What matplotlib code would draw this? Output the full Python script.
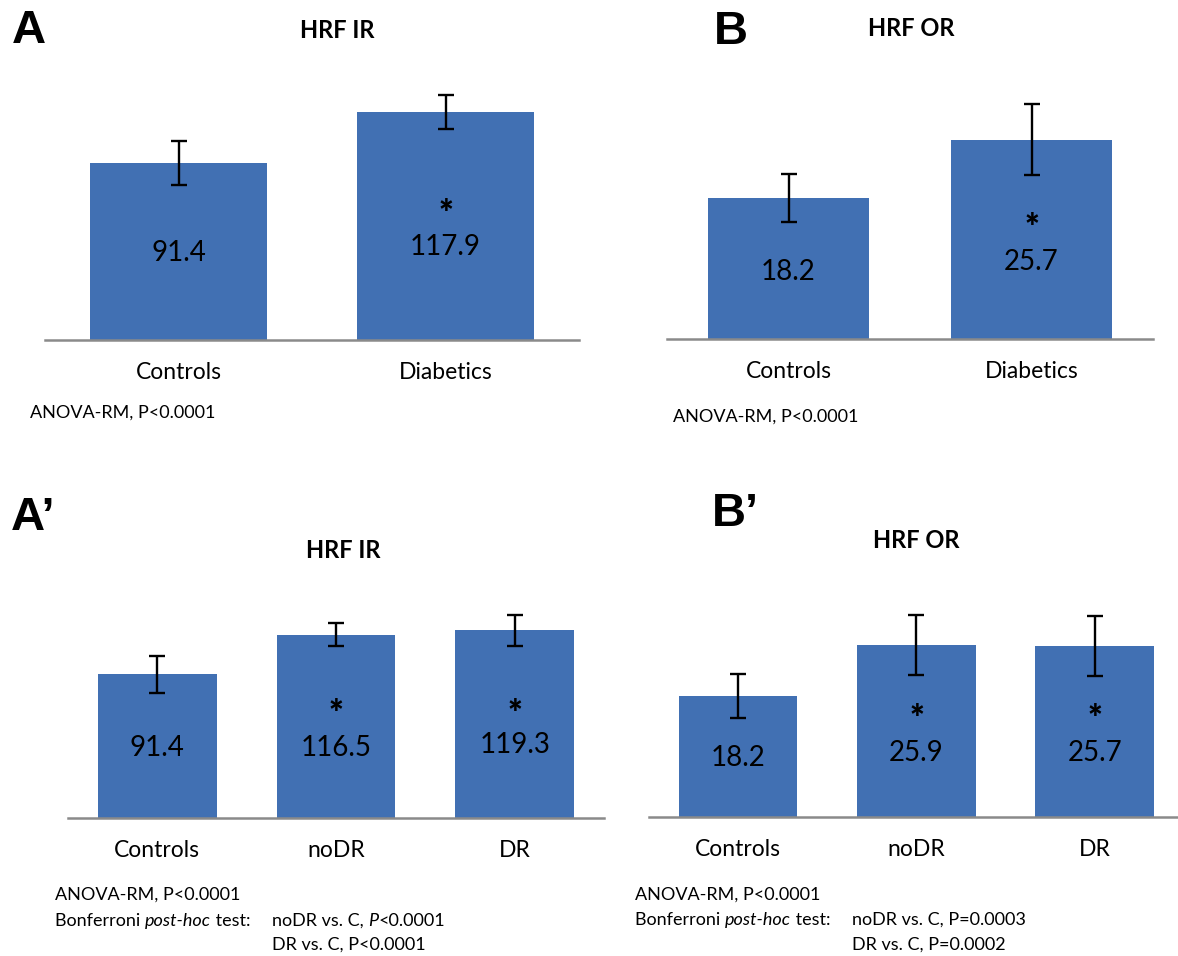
import matplotlib
matplotlib.use("Agg")
import matplotlib.pyplot as plt

# ---------------- data ----------------
cats_2 = ["Controls", "Diabetics"]
cats_3 = ["Controls", "noDR", "DR"]

ir_2_vals = [91.4, 117.9]
ir_2_err = [11.4, 8.8]
or_2_vals = [18.2, 25.7]
or_2_err = [3.15, 4.6]

ir_3_vals = [91.4, 116.5, 119.3]
ir_3_err = [11.75, 7.0, 9.85]
or_3_vals = [18.2, 25.9, 25.7]
or_3_err = [3.25, 4.5, 4.55]

sig_2 = [False, True]
sig_3 = [False, True, True]

# ---------------- style ----------------
W, H = 1178, 956
BAR = "#4170B3"
AXC = "#8a8a8a"
FONT = "Lato"
plt.rcParams["font.family"] = [FONT, "DejaVu Sans"]

fig = plt.figure(figsize=(W / 100, H / 100), dpi=100)


def axpos(left, right, baseline, top):
    return [left / W, 1 - baseline / H, (right - left) / W, (baseline - top) / H]


def fx(x):
    return x / W


def fy(y):
    return 1 - y / H


def panel(rect, cats, vals, errs, sig, ymax, xmax, label_y, star_y, tick_pad):
    ax = fig.add_axes(rect)
    x = list(range(len(cats)))
    ax.bar(x, vals, width=0.665, color=BAR, zorder=2)
    ax.errorbar(x, vals, yerr=errs, fmt="none", ecolor="black",
                elinewidth=1.7, capsize=5.5, capthick=1.7, zorder=3)
    ax.set_xlim(-0.5, xmax)
    ax.set_ylim(0, ymax)
    for s in ["top", "right", "left"]:
        ax.spines[s].set_visible(False)
    ax.spines["bottom"].set_color(AXC)
    ax.spines["bottom"].set_linewidth(1.8)
    ax.set_yticks([])
    ax.set_xticks(x)
    ax.set_xticklabels(cats, fontsize=16.5)
    ax.tick_params(axis="x", length=0, pad=tick_pad)
    for i, v in enumerate(vals):
        ax.text(i, label_y[i], f"{v:.1f}", ha="center", va="center",
                fontsize=20, color="black", zorder=4)
        if sig[i]:
            ax.text(i, star_y, "*", ha="center", va="center",
                    fontsize=25, fontweight="heavy", color="black", zorder=4)
    return ax


# Panel A
panel(axpos(45, 579, 340, 340 - 140 * 1.937), cats_2, ir_2_vals, ir_2_err, sig_2,
      140, 1.5, [44.9, 48.0], 65.0, 16)
# Panel B
panel(axpos(667, 1153, 339, 339 - 35 * 7.75), cats_2, or_2_vals, or_2_err, sig_2,
      35, 1.5, [8.65, 9.9], 14.3, 16)
# Panel A'
panel(axpos(68, 604, 818, 818 - 140 * 1.575), cats_3, ir_3_vals, ir_3_err, sig_3,
      140, 2.5, [44.4, 44.4, 46.3], 66.0, 16)
# Panel B'
panel(axpos(649, 1178, 817, 817 - 35 * 6.65), cats_3, or_3_vals, or_3_err, sig_3,
      35, -0.5 + 529 / 178.3, [8.9, 9.6, 9.6], 14.6, 16)

# Panel letters
for txt, x, y in [("A", 12, 31), ("B", 714, 32), ("A\u2019", 11, 518), ("B\u2019", 712, 514)]:
    fig.text(fx(x), fy(y), txt, family="Liberation Sans", fontweight="bold",
             fontsize=34, ha="left", va="center")

# Titles
for txt, x, y in [("HRF IR", 337, 30), ("HRF OR", 911, 28), ("HRF IR", 343, 550), ("HRF OR", 916, 540)]:
    fig.text(fx(x), fy(y), txt, fontweight="bold", fontsize=17, ha="center", va="center")

fig.canvas.draw()
renderer = fig.canvas.get_renderer()


def runs(x_px, y_px, parts, size=13):
    cur = fx(x_px)
    for s, style in parts:
        t = fig.text(cur, fy(y_px), s, fontsize=size, style=style, ha="left", va="center")
        bb = t.get_window_extent(renderer=renderer)
        cur += bb.width / W


# ANOVA notes
runs(30, 413, [("ANOVA-RM, P<0.0001", "normal")])
runs(673, 417, [("ANOVA-RM, P<0.0001", "normal")])

runs(55, 895, [("ANOVA-RM, P<0.0001", "normal")])
runs(55, 921, [("Bonferroni ", "normal"), ("post-hoc", "italic"), (" test:", "normal")])
runs(272, 921, [("noDR vs. C, ", "normal"), ("P", "italic"), ("<0.0001", "normal")])
runs(272, 945, [("DR vs. C, P<0.0001", "normal")])

runs(635, 895, [("ANOVA-RM, P<0.0001", "normal")])
runs(635, 920, [("Bonferroni ", "normal"), ("post-hoc", "italic"), (" test:", "normal")])
runs(852, 920, [("noDR vs. C, P=0.0003", "normal")])
runs(852, 945, [("DR vs. C, P=0.0002", "normal")])

fig.savefig("out.png", dpi=100)
